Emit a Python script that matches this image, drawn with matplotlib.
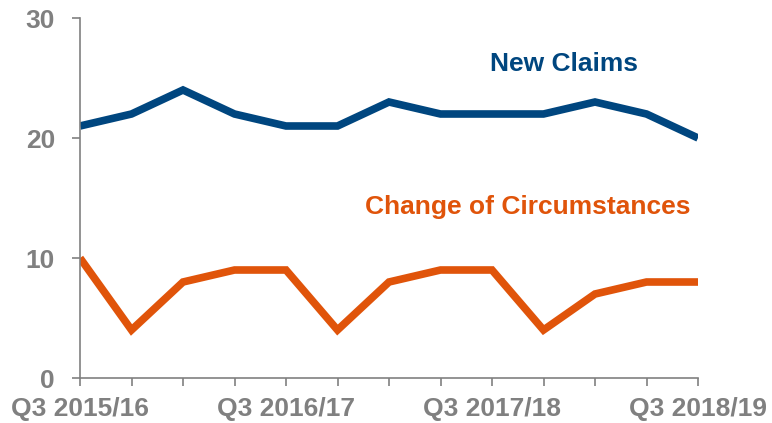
import matplotlib
matplotlib.use("Agg")
import matplotlib.pyplot as plt
import numpy as np

quarters = ["Q3 2015/16", "Q4 2015/16", "Q1 2016/17", "Q2 2016/17",
            "Q3 2016/17", "Q4 2016/17", "Q1 2017/18", "Q2 2017/18",
            "Q3 2017/18", "Q4 2017/18", "Q1 2018/19", "Q2 2018/19",
            "Q3 2018/19"]
new_claims = [21, 22, 24, 22, 21, 21, 23, 22, 22, 22, 23, 22, 20]
change_circ = [10, 4, 8, 9, 9, 4, 8, 9, 9, 4, 7, 8, 8]

navy = "#00467F"
orange = "#E0540A"
grey = "#808080"

plt.rcParams["font.family"] = ["Liberation Sans", "DejaVu Sans"]

fig = plt.figure(figsize=(7.72, 4.23), dpi=100)
ax = fig.add_axes([80 / 772, 45 / 423, 618 / 772, 360 / 423])

x = np.arange(len(quarters))
ax.plot(x, new_claims, color=navy, lw=5.5, solid_capstyle="butt", solid_joinstyle="miter")
ax.plot(x, change_circ, color=orange, lw=5.5, solid_capstyle="butt", solid_joinstyle="miter")

ax.text(9.4, 26.2, "New Claims", color=navy, fontsize=19, fontweight="bold",
        ha="center", va="center")
ax.text(8.7, 14.25, "Change of Circumstances", color=orange, fontsize=19,
        fontweight="bold", ha="center", va="center")

ax.set_xlim(0, len(quarters) - 1)
ax.set_ylim(0, 30)
ax.set_yticks([0, 10, 20, 30])
ax.set_xticks(x, minor=True)
ax.set_xticks(x[::4])
ax.set_xticklabels([quarters[i] for i in x[::4]])

for s in ["top", "right"]:
    ax.spines[s].set_visible(False)
for s in ["left", "bottom"]:
    ax.spines[s].set_color(grey)
    ax.spines[s].set_linewidth(1.2)

ax.tick_params(axis="both", colors=grey, labelcolor=grey, length=6, width=1.2,
               labelsize=19)
ax.tick_params(axis="x", which="minor", colors=grey, length=6, width=1.2)
ax.tick_params(axis="y", pad=12)
ax.tick_params(axis="x", pad=8)
for lbl in ax.get_xticklabels() + ax.get_yticklabels():
    lbl.set_fontweight("bold")

fig.savefig("out.png", dpi=100)
